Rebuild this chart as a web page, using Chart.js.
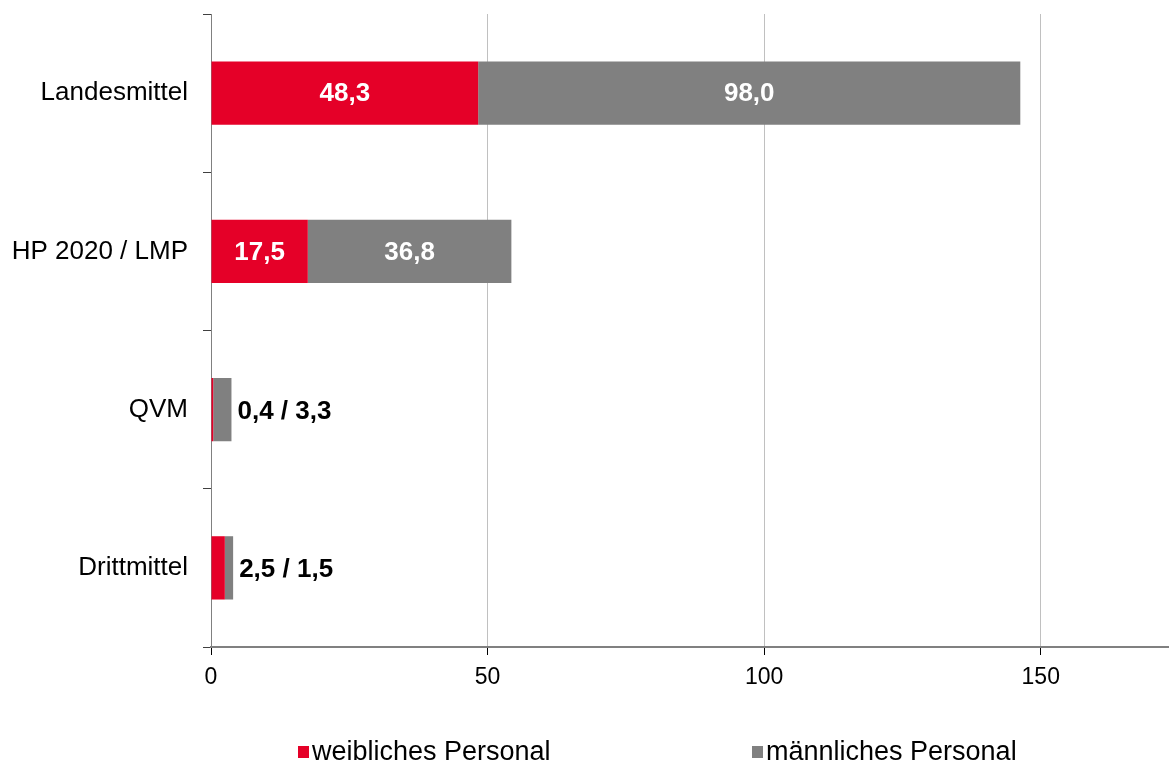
<!DOCTYPE html>
<html>
<head>
<meta charset="utf-8">
<script src="https://cdn.jsdelivr.net/npm/chart.js@4.4.0/dist/chart.umd.min.js"></script>
<style>
  html, body { margin: 0; padding: 0; background: #fff; }
  #wrap { width: 1169px; height: 767px; }
</style>
</head>
<body>
<div id="wrap"><canvas id="chart" width="1169" height="767"></canvas></div>
<script>
const categories = ['Landesmittel', 'HP 2020 / LMP', 'QVM', 'Drittmittel'];
const female = [48.3, 17.5, 0.4, 2.5];
const male = [98.0, 36.8, 3.3, 1.5];
const seriesNames = ['weibliches Personal', 'männliches Personal'];
const xTicks = [0, 50, 100, 150];

const RED = '#e50028';
const GREY = '#808080';
const FONT = '"Liberation Sans", Arial, sans-serif';

function fmt(v) {
  return v.toFixed(1).replace('.', ',');
}

// value labels: inside the bar when it fits, otherwise "a / b" to the right
const labelPlugin = {
  id: 'barLabels',
  afterDatasetsDraw(chart) {
    const ctx = chart.ctx;
    const m0 = chart.getDatasetMeta(0);
    const m1 = chart.getDatasetMeta(1);
    ctx.save();
    ctx.font = 'bold 26px ' + FONT;
    ctx.textBaseline = 'middle';
    categories.forEach((c, i) => {
      const b0 = m0.data[i], b1 = m1.data[i];
      const w0 = b0.x - b0.base, w1 = b1.x - b1.base;
      if (w0 > 50 && w1 > 50) {
        ctx.fillStyle = '#fff';
        ctx.textAlign = 'center';
        ctx.fillText(fmt(female[i]), (b0.x + b0.base) / 2, b0.y + 1);
        ctx.fillText(fmt(male[i]), (b1.x + b1.base) / 2, b1.y + 1);
      } else {
        ctx.fillStyle = '#000';
        ctx.textAlign = 'left';
        ctx.fillText(fmt(female[i]) + ' / ' + fmt(male[i]), b1.x + 6, b1.y + 2);
      }
    });
    ctx.restore();
  }
};

// legend drawn spread out like the original
const legendPlugin = {
  id: 'wideLegend',
  afterDraw(chart) {
    const ctx = chart.ctx;
    const items = [
      { x: 298, color: RED, text: seriesNames[0] },
      { x: 752, color: GREY, text: seriesNames[1] }
    ];
    ctx.save();
    ctx.font = '27px ' + FONT;
    ctx.textBaseline = 'middle';
    ctx.textAlign = 'left';
    items.forEach(it => {
      ctx.fillStyle = it.color;
      ctx.fillRect(it.x, 746, 11, 12);
      ctx.fillStyle = '#000';
      ctx.fillText(it.text, it.x + 14, 753);
    });
    ctx.restore();
  }
};

new Chart(document.getElementById('chart'), {
  type: 'bar',
  data: {
    labels: categories,
    datasets: [
      { label: seriesNames[0], data: female, backgroundColor: RED },
      { label: seriesNames[1], data: male, backgroundColor: GREY }
    ]
  },
  options: {
    indexAxis: 'y',
    responsive: false,
    animation: false,
    barPercentage: 0.4,
    categoryPercentage: 1,
    layout: { padding: { top: 14, right: 1, bottom: 70, left: 0 } },
    plugins: {
      legend: { display: false },
      tooltip: { enabled: false }
    },
    scales: {
      x: {
        stacked: true,
        min: 0,
        max: 173,
        afterFit: s => { s.height = 50; s.paddingLeft = 0; s.paddingRight = 0; },
        afterBuildTicks: s => { s.ticks = xTicks.map(v => ({ value: v })); },
        ticks: { font: { family: FONT, size: 23 }, color: '#000', padding: 9 },
        grid: { color: '#c0c0c0', tickColor: '#000', tickLength: 8, lineWidth: 1 },
        border: { color: GREY, width: 2 }
      },
      y: {
        stacked: true,
        afterFit: s => { s.width = 211; s.paddingTop = 0; s.paddingBottom = 0; },
        ticks: { font: { family: FONT, size: 26 }, color: '#000', padding: 15 },
        grid: { offset: true, drawOnChartArea: false, tickLength: 8, color: '#404040' },
        border: { color: GREY, width: 1 }
      }
    }
  },
  plugins: [labelPlugin, legendPlugin]
});
</script>
</body>
</html>
